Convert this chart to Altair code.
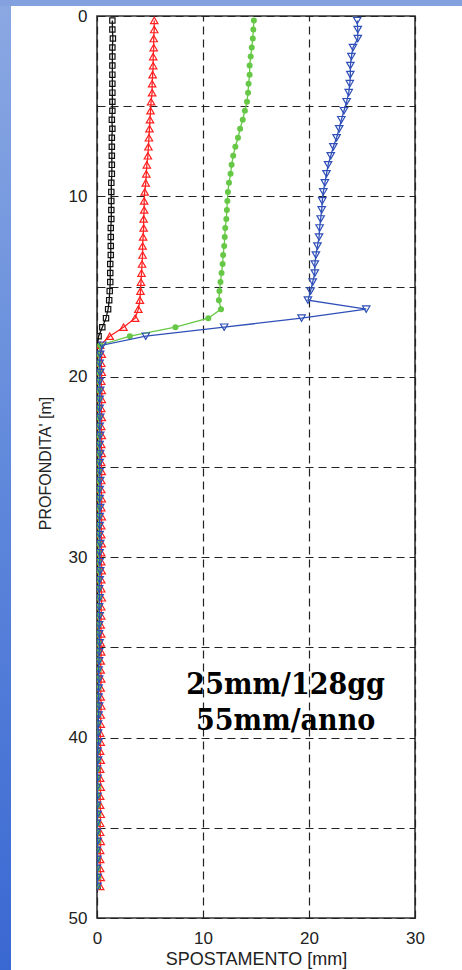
import altair as alt
import pandas as pd

# Depth of each reading [m]
depth = [0.25, 0.75, 1.25, 1.75, 2.25, 2.75, 3.25, 3.75, 4.25, 4.75,
         5.25, 5.75, 6.25, 6.75, 7.25, 7.75, 8.25, 8.75, 9.25, 9.75,
         10.25, 10.75, 11.25, 11.75, 12.25, 12.75, 13.25, 13.75, 14.25, 14.75,
         15.25, 15.75, 16.25, 16.75, 17.25, 17.75, 18.25, 18.75, 19.25, 19.75,
         20.25, 20.75, 21.25, 21.75, 22.25, 22.75, 23.25, 23.75, 24.25, 24.75,
         25.25, 25.75, 26.25, 26.75, 27.25, 27.75, 28.25, 28.75, 29.25, 29.75,
         30.25, 30.75, 31.25, 31.75, 32.25, 32.75, 33.25, 33.75, 34.25, 34.75,
         35.25, 35.75, 36.25, 36.75, 37.25, 37.75, 38.25, 38.75, 39.25, 39.75,
         40.25, 40.75, 41.25, 41.75, 42.25, 42.75, 43.25, 43.75, 44.25, 44.75,
         45.25, 45.75, 46.25, 46.75, 47.25, 47.75, 48.25]

# Displacements [mm]
black = [1.45, 1.45, 1.5, 1.45, 1.45, 1.45, 1.45, 1.45, 1.45, 1.45,
         1.45, 1.4, 1.45, 1.4, 1.4, 1.4, 1.4, 1.4, 1.35, 1.35,
         1.35, 1.35, 1.35, 1.3, 1.3, 1.3, 1.3, 1.25, 1.25, 1.25,
         1.2, 1.15, 1.05, 0.85, 0.5, 0.15, 0.05,
         0.05, 0.05, 0.05, 0.0, 0.05, 0.05, 0.05, 0.05, 0.0, 0.05,
         0.05, 0.05, 0.05, 0.05, 0.0, 0.05, 0.05, 0.05, 0.05, 0.05,
         0.05, 0.0, 0.05, 0.05, 0.05, 0.05, 0.05, 0.0, 0.05, 0.05,
         0.05, 0.05, 0.05, 0.05, 0.0, 0.05, 0.05, 0.05, 0.05, 0.05,
         0.0, 0.05, 0.05, 0.05, 0.05, 0.0, 0.05, 0.05, 0.05, 0.05,
         0.05, 0.05, 0.0, 0.05, 0.05, 0.05, 0.05, 0.05, 0.0, 0.05]

red = [5.4, 5.4, 5.35, 5.35, 5.3, 5.3, 5.25, 5.2, 5.2, 5.1,
       5.05, 5.0, 4.95, 4.9, 4.85, 4.8, 4.7, 4.65, 4.6, 4.5,
       4.45, 4.45, 4.4, 4.4, 4.35, 4.3, 4.3, 4.25, 4.2, 4.15,
       4.1, 4.05, 3.9, 3.6, 2.5, 1.2, 0.3,
       0.45, 0.4, 0.45, 0.4, 0.45, 0.45, 0.4, 0.45, 0.4, 0.45,
       0.4, 0.45, 0.4, 0.45, 0.4, 0.4, 0.45, 0.4, 0.45, 0.4,
       0.4, 0.45, 0.4, 0.4, 0.45, 0.4, 0.4, 0.45, 0.4, 0.4,
       0.35, 0.4, 0.35, 0.4, 0.35, 0.35, 0.4, 0.35, 0.35, 0.4,
       0.35, 0.35, 0.3, 0.35, 0.3, 0.35, 0.3, 0.3, 0.35, 0.3,
       0.3, 0.35, 0.3, 0.3, 0.35, 0.3, 0.3, 0.3, 0.35, 0.3]

green = [14.8, 14.75, 14.7, 14.6, 14.5, 14.4, 14.4, 14.3, 14.25, 14.15,
         13.95, 13.75, 13.5, 13.3, 13.05, 12.85, 12.7, 12.6, 12.45, 12.35,
         12.3, 12.25, 12.2, 12.1, 12.05, 12.0, 11.9, 11.85, 11.75, 11.65,
         11.55, 11.5, 11.7, 10.5, 7.4, 3.1, 0.3,
         0.2, 0.15, 0.2, 0.15, 0.2, 0.2, 0.15, 0.2, 0.15, 0.2,
         0.15, 0.2, 0.15, 0.2, 0.15, 0.15, 0.2, 0.15, 0.2, 0.15,
         0.15, 0.2, 0.15, 0.15, 0.2, 0.15, 0.15, 0.2, 0.15, 0.15,
         0.15, 0.1, 0.15, 0.1, 0.15, 0.15, 0.1, 0.15, 0.1, 0.1,
         0.1, 0.1, 0.05, 0.1, 0.05, 0.1, 0.05, 0.05, 0.1, 0.05,
         0.05, 0.1, 0.05, 0.05, 0.1, 0.05, 0.05, 0.05, 0.1, 0.05]

blue = [24.55, 24.6, 24.6, 24.15, 24.0, 23.9, 23.9, 23.85, 23.75, 23.55,
        23.3, 23.05, 22.85, 22.6, 22.3, 22.05, 21.8, 21.65, 21.5, 21.35,
        21.25, 21.2, 21.1, 21.0, 20.95, 20.8, 20.65, 20.55, 20.55, 20.35,
        20.15, 19.9, 25.4, 19.3, 12.0, 4.6, 0.5,
        0.3, 0.25, 0.3, 0.25, 0.3, 0.25, 0.25, 0.3, 0.25, 0.3,
        0.25, 0.3, 0.25, 0.25, 0.3, 0.25, 0.25, 0.3, 0.25, 0.25,
        0.25, 0.3, 0.25, 0.25, 0.3, 0.25, 0.2, 0.25, 0.2, 0.25,
        0.2, 0.2, 0.25, 0.2, 0.2, 0.15, 0.2, 0.15, 0.15, 0.2,
        0.15, 0.1, 0.1, 0.15, 0.05, 0.1, 0.0, 0.05, 0.0, 0.05,
        0.0, 0.05, 0.0, 0.0, 0.05, 0.0, 0.05, 0.0, 0.05, 0.05]

x_ticks = [0, 10, 20, 30]
y_ticks = [0, 5, 10, 15, 20, 25, 30, 35, 40, 45, 50]

note_lines = ["25mm/128gg", "55mm/anno"]
note_x = [17.8, 17.8]
note_y = [37.1, 39.1]

W, H = 318, 902
PAD = {"left": 97, "top": 16, "right": 47, "bottom": 52}

xscale = alt.Scale(domain=[0, 30], nice=False, zero=False)
yscale = alt.Scale(domain=[0, 50], nice=False, reverse=True)

x_axis = alt.Axis(values=x_ticks, title="SPOSTAMENTO [mm]", grid=True,
                  gridDash=[8, 5], gridColor="#222", gridWidth=1.2,
                  ticks=False, tickSize=0, domain=False, labelFlush=False,
                  labelFont="Liberation Sans", labelFontSize=17, labelColor="#222",
                  labelPadding=12,
                  titleFont="Liberation Sans", titleFontSize=18, titleFontWeight="normal",
                  titleColor="#222", titleY=41, titleBaseline="middle")
y_axis = alt.Axis(values=y_ticks, title="PROFONDITA' [m]", grid=True,
                  gridDash=[8, 5], gridColor="#222", gridWidth=1.2,
                  ticks=False, tickSize=0, domain=False, labelFlush=False,
                  labelExpr="datum.value % 10 == 0 ? datum.label : ''",
                  labelFont="Liberation Sans", labelFontSize=17, labelColor="#222",
                  labelPadding=10,
                  titleFont="Liberation Sans", titleFontSize=16, titleFontWeight="normal",
                  titleColor="#222", titleAngle=-90, titleX=-52, titleY=447,
                  titleAlign="center", titleBaseline="middle")


def X(field):
    return alt.X(field, scale=xscale, axis=x_axis)


def Y(field):
    return alt.Y(field, scale=yscale, axis=y_axis)


series = [
    ("black", black, "#111111", "square", False, 28),
    ("red", red, "#ff2020", "triangle-up", False, 55),
    ("green", green, "#66c846", "circle", True, 36),
    ("blue", blue, "#2f4fb8", "triangle-down", False, 55),
]

# page decoration: blue frame strips of the slide
one = pd.DataFrame({"a": [0]})
left_strip = alt.Chart(one).mark_rect(
    color=alt.LinearGradient(gradient="linear",
                             stops=[alt.GradientStop(color="#8ba8e2", offset=0),
                                    alt.GradientStop(color="#5f88db", offset=0.5),
                                    alt.GradientStop(color="#3a68d2", offset=1)],
                             x1=0, x2=0, y1=0, y2=1)
).encode(x=alt.value(-PAD["left"]), x2=alt.value(-PAD["left"] + 11),
         y=alt.value(-PAD["top"]), y2=alt.value(970 - PAD["top"]))
top_strip = alt.Chart(one).mark_rect(color="#83a1df").encode(
    x=alt.value(-PAD["left"]), x2=alt.value(462 - PAD["left"]),
    y=alt.value(-PAD["top"]), y2=alt.value(-PAD["top"] + 6))

layers = []
for name, vals, col, shape, filled, size in series:
    assert len(vals) == len(depth), name
    df = pd.DataFrame({"depth": depth, "disp": vals})
    enc = dict(x=X("disp:Q"), y=Y("depth:Q"), order=alt.Order("depth:Q"))
    line = alt.Chart(df).mark_line(color=col, strokeWidth=1.3, clip=True).encode(**enc)
    if filled:
        pts = alt.Chart(df).mark_point(shape=shape, filled=True, color=col, size=size,
                                       opacity=1, clip=True).encode(**enc)
    else:
        pts = alt.Chart(df).mark_point(shape=shape, filled=False, color=col, size=size,
                                       strokeWidth=1.2, opacity=1, clip=True).encode(**enc)
    layers += [line, pts]

notes = pd.DataFrame({"t": note_lines, "x": note_x, "y": note_y})
note_layer = alt.Chart(notes).mark_text(
    font="DejaVu Serif Condensed, DejaVu Serif", fontWeight="bold", fontSize=30,
    color="#000", align="center", baseline="middle"
).encode(x=X("x:Q"), y=Y("y:Q"), text="t:N")
layers.append(note_layer)

chart = alt.layer(left_strip, top_strip, *layers).properties(
    width=W, height=H, padding=PAD, autosize="none", background="white"
).configure_view(stroke="#333", strokeWidth=1.6)

chart.save("out.html", embed_options={"renderer": "svg", "actions": False})
